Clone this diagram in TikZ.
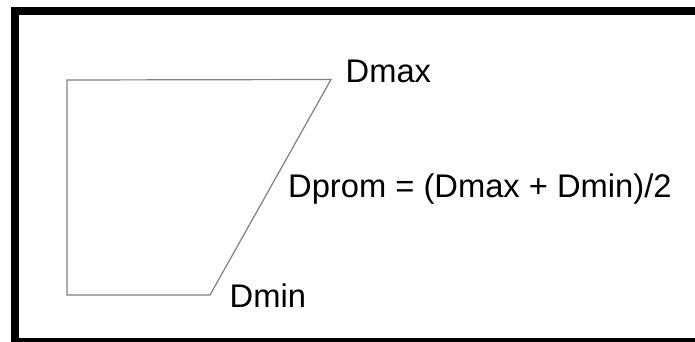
\documentclass[tikz,border=0pt]{standalone}
\usepackage{fontspec}
\setmainfont{Liberation Sans}
\begin{document}
\begin{tikzpicture}[x=1pt,y=1pt,
  frame/.style={line width=8pt,draw=black},
  trapline/.style={draw=black!50,line width=1.2pt,line join=miter},
  lbl/.style={anchor=base west,inner sep=0pt,font=\fontsize{32.7}{36}\selectfont}]
\useasboundingbox (0,0) rectangle (695,341);
\clip (0,0) rectangle (695,341);
\fill[white] (0,0) rectangle (695,341);
\draw[frame] (14.5,330) rectangle (710,-1);
\coordinate (tl) at (67,261);
\coordinate (tr) at (331,261.5);
\coordinate (br) at (210,46);
\coordinate (bl) at (67,46);
\draw[trapline] (tl) -- (tr) -- (br) -- (bl) -- cycle;
\node[lbl] (dmax) at (345.5,259) {Dmax};
\node[lbl] (dprom) at (288,144) {Dprom = (Dmax + Dmin)/2};
\node[lbl] (dmin) at (229.5,33.3) {Dmin};
\end{tikzpicture}
\end{document}
